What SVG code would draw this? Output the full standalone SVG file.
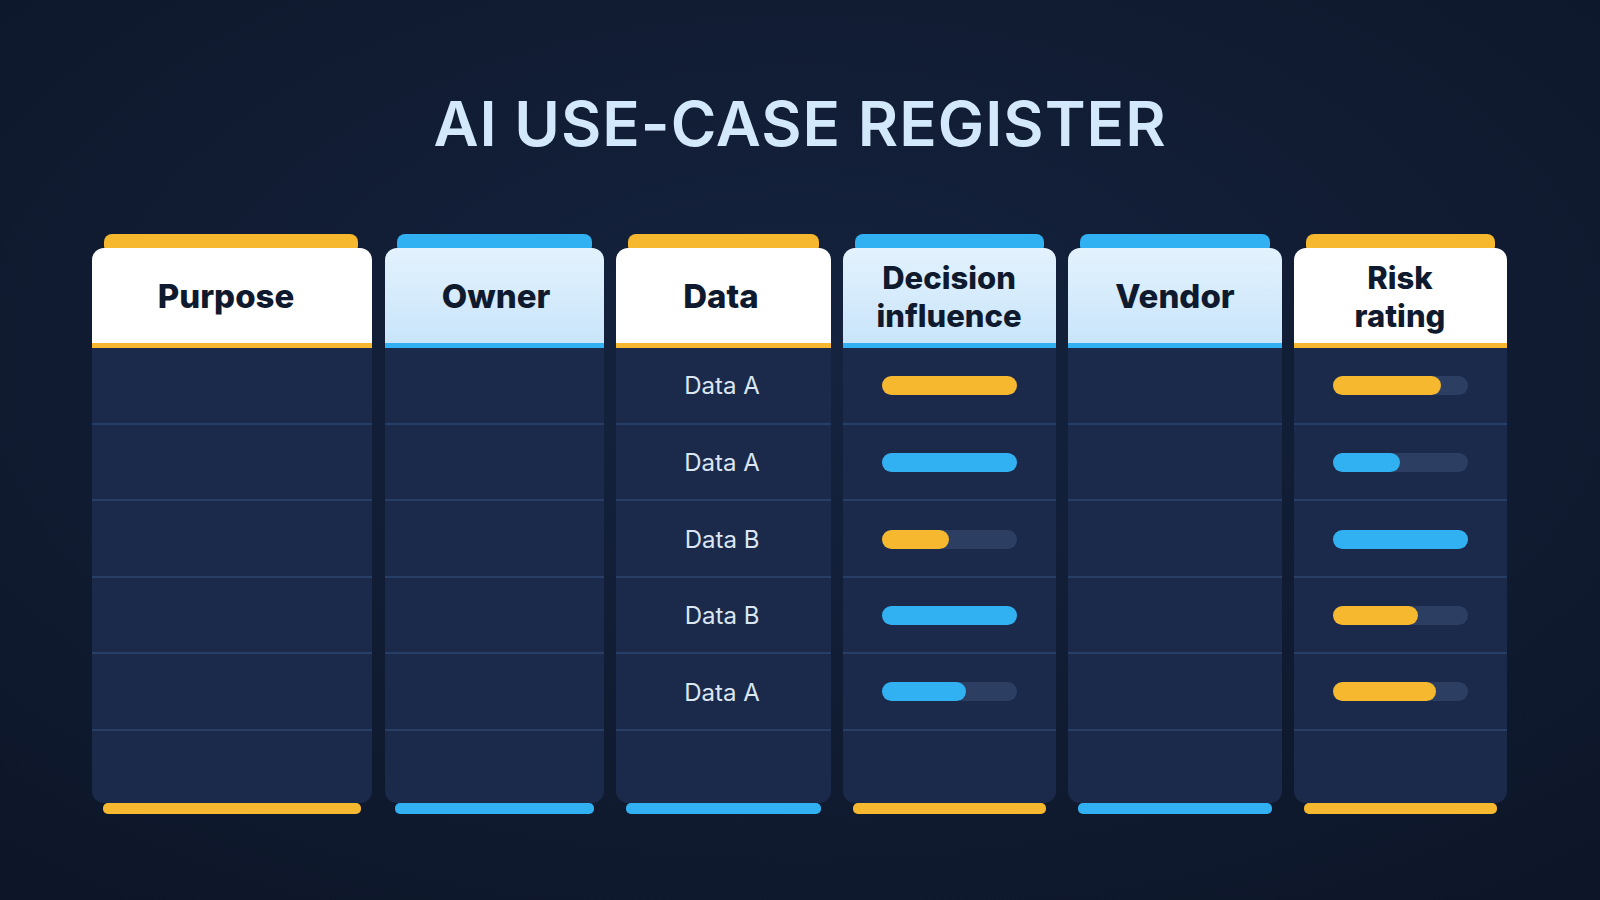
<svg xmlns="http://www.w3.org/2000/svg" width="1600" height="900" viewBox="0 0 1600 900">
<defs>
<radialGradient id="bg" cx="50%" cy="40%" r="75%"><stop offset="0" stop-color="#15233f"/><stop offset="1" stop-color="#0d1628"/></radialGradient>
<linearGradient id="hb" x1="0" y1="0" x2="0" y2="1"><stop offset="0" stop-color="#e3f2fd"/><stop offset="1" stop-color="#c8e4fa"/></linearGradient>
<style>
.body{fill:#1b2a4b}
.hw{fill:#ffffff}
.hbl{fill:url(#hb)}
.y{fill:#f5b82e}
.b{fill:#31b1f2}
.trk{fill:#2c3f63}
.ln{stroke:#2c4670;stroke-width:1.5}
.ht{font-family:Inter,"Noto Sans",sans-serif;font-weight:800;font-size:33px;fill:#0f1a2e;text-anchor:middle}
.ht2{font-size:31px}
.dt{font-family:Inter,"Noto Sans",sans-serif;font-size:24px;fill:#dbe6f3;text-anchor:middle}
.title{font-family:Inter,"Noto Sans",sans-serif;font-weight:600;font-size:62px;fill:#d3e8fb;text-anchor:middle;letter-spacing:1px}
</style>
</defs>
<rect width="1600" height="900" fill="url(#bg)"/>
<text class="title" x="800" y="146">AI USE-CASE REGISTER</text>

<g id="col-purpose">
<rect class="y" x="104" y="234" width="254" height="20" rx="8"/>
<rect class="body" x="92" y="248" width="280" height="555" rx="12"/>
<path class="hw" d="M92 260a12 12 0 0 1 12-12h256a12 12 0 0 1 12 12v87H92z"/>
<rect class="y" x="92" y="343" width="280" height="5"/>
<rect class="y" x="103" y="803" width="258" height="11" rx="5"/>
<text class="ht" x="226" y="308">Purpose</text>
</g>
<g id="col-owner">
<rect class="b" x="397" y="234" width="195" height="20" rx="8"/>
<rect class="body" x="385" y="248" width="219" height="555" rx="12"/>
<path class="hbl" d="M385 260a12 12 0 0 1 12-12h195a12 12 0 0 1 12 12v87H385z"/>
<rect class="b" x="385" y="343" width="219" height="5"/>
<rect class="b" x="395" y="803" width="199" height="11" rx="5"/>
<text class="ht" x="496" y="308">Owner</text>
</g>
<g id="col-data">
<rect class="y" x="628" y="234" width="191" height="20" rx="8"/>
<rect class="body" x="616" y="248" width="215" height="555" rx="12"/>
<path class="hw" d="M616 260a12 12 0 0 1 12-12h191a12 12 0 0 1 12 12v87H616z"/>
<rect class="y" x="616" y="343" width="215" height="5"/>
<rect class="b" x="626" y="803" width="195" height="11" rx="5"/>
<text class="ht" x="721" y="308">Data</text>
<text class="dt" x="722" y="394">Data A</text>
<text class="dt" x="722" y="471">Data A</text>
<text class="dt" x="722" y="548">Data B</text>
<text class="dt" x="722" y="624">Data B</text>
<text class="dt" x="722" y="701">Data A</text>
</g>
<g id="col-decision">
<rect class="b" x="855" y="234" width="189" height="20" rx="8"/>
<rect class="body" x="843" y="248" width="213" height="555" rx="12"/>
<path class="hbl" d="M843 260a12 12 0 0 1 12-12h189a12 12 0 0 1 12 12v87H843z"/>
<rect class="b" x="843" y="343" width="213" height="5"/>
<rect class="y" x="853" y="803" width="193" height="11" rx="5"/>
<text class="ht ht2" x="949" y="289">Decision</text>
<text class="ht ht2" x="949" y="327">influence</text>
<rect class="trk" x="882" y="376" width="135" height="19" rx="9.5"/><rect class="y" x="882" y="376" width="135" height="19" rx="9.5"/>
<rect class="trk" x="882" y="453" width="135" height="19" rx="9.5"/><rect class="b" x="882" y="453" width="135" height="19" rx="9.5"/>
<rect class="trk" x="882" y="530" width="135" height="19" rx="9.5"/><rect class="y" x="882" y="530" width="67" height="19" rx="9.5"/>
<rect class="trk" x="882" y="606" width="135" height="19" rx="9.5"/><rect class="b" x="882" y="606" width="135" height="19" rx="9.5"/>
<rect class="trk" x="882" y="682" width="135" height="19" rx="9.5"/><rect class="b" x="882" y="682" width="84" height="19" rx="9.5"/>
</g>
<g id="col-vendor">
<rect class="b" x="1080" y="234" width="190" height="20" rx="8"/>
<rect class="body" x="1068" y="248" width="214" height="555" rx="12"/>
<path class="hbl" d="M1068 260a12 12 0 0 1 12-12h190a12 12 0 0 1 12 12v87H1068z"/>
<rect class="b" x="1068" y="343" width="214" height="5"/>
<rect class="b" x="1078" y="803" width="194" height="11" rx="5"/>
<text class="ht" x="1175" y="308">Vendor</text>
</g>
<g id="col-risk">
<rect class="y" x="1306" y="234" width="189" height="20" rx="8"/>
<rect class="body" x="1294" y="248" width="213" height="555" rx="12"/>
<path class="hw" d="M1294 260a12 12 0 0 1 12-12h189a12 12 0 0 1 12 12v87H1294z"/>
<rect class="y" x="1294" y="343" width="213" height="5"/>
<rect class="y" x="1304" y="803" width="193" height="11" rx="5"/>
<text class="ht ht2" x="1400" y="289">Risk</text>
<text class="ht ht2" x="1400" y="327">rating</text>
<rect class="trk" x="1333" y="376" width="135" height="19" rx="9.5"/><rect class="y" x="1333" y="376" width="108" height="19" rx="9.5"/>
<rect class="trk" x="1333" y="453" width="135" height="19" rx="9.5"/><rect class="b" x="1333" y="453" width="67" height="19" rx="9.5"/>
<rect class="trk" x="1333" y="530" width="135" height="19" rx="9.5"/><rect class="b" x="1333" y="530" width="135" height="19" rx="9.5"/>
<rect class="trk" x="1333" y="606" width="135" height="19" rx="9.5"/><rect class="y" x="1333" y="606" width="85" height="19" rx="9.5"/>
<rect class="trk" x="1333" y="682" width="135" height="19" rx="9.5"/><rect class="y" x="1333" y="682" width="103" height="19" rx="9.5"/>
</g>
<g id="row-lines" class="ln">
<path d="M92 424H372M385 424H604M616 424H831M843 424H1056M1068 424H1282M1294 424H1507"/>
<path d="M92 500H372M385 500H604M616 500H831M843 500H1056M1068 500H1282M1294 500H1507"/>
<path d="M92 577H372M385 577H604M616 577H831M843 577H1056M1068 577H1282M1294 577H1507"/>
<path d="M92 653H372M385 653H604M616 653H831M843 653H1056M1068 653H1282M1294 653H1507"/>
<path d="M92 730H372M385 730H604M616 730H831M843 730H1056M1068 730H1282M1294 730H1507"/>
</g>
</svg>
